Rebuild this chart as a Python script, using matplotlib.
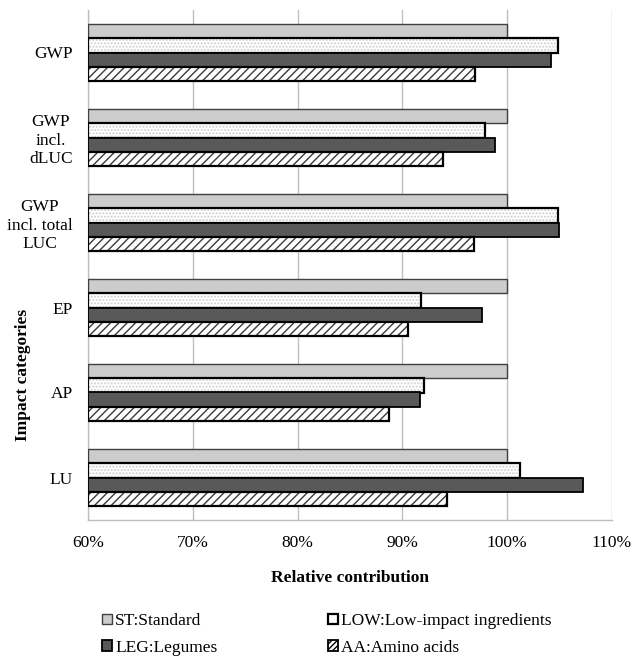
import matplotlib
matplotlib.use("Agg")
import matplotlib.pyplot as plt
from matplotlib.patches import Patch
from matplotlib.ticker import FuncFormatter
import numpy as np

plt.rcParams['font.family'] = ['Liberation Serif', 'DejaVu Serif']
plt.rcParams['hatch.linewidth'] = 1.0

categories = ["GWP", "GWP\nincl.\ndLUC", "GWP\nincl. total\nLUC", "EP", "AP", "LU"]
series_names = ["ST:Standard", "LOW:Low-impact ingredients", "LEG:Legumes", "AA:Amino acids"]
st = [100.0, 100.0, 100.0, 100.0, 100.0, 100.0]
low = [104.8, 97.9, 104.8, 91.8, 92.1, 101.2]
leg = [104.2, 98.8, 104.9, 97.6, 91.7, 107.2]
aa = [96.95, 93.9, 96.86, 90.5, 88.7, 94.3]
x_ticks = [60, 70, 80, 90, 100, 110]

XMIN, XMAX = 60, 110

fig = plt.figure(figsize=(6.35, 6.56), dpi=100)
ax = fig.add_axes([88/635, 1 - 520/656, 524/635, 510/656])

y = np.arange(len(categories))
h = 0.165
offs = [-1.5*h, -0.5*h, 0.5*h, 1.5*h]

def bars(vals, off, **kw):
    v = np.array(vals)
    return ax.barh(y + off, v - XMIN, left=XMIN, height=h, zorder=3, **kw)

# ST
bars(st, offs[0], color='#cccccc', edgecolor='#404040', linewidth=1.0)
# LOW: dotted fill then black outline
bars(low, offs[1], color='white', edgecolor='#cfcfcf', linewidth=0, hatch='.....')
bars(low, offs[1], fill=False, edgecolor='black', linewidth=1.6)
# LEG
bars(leg, offs[2], color='#595959', edgecolor='black', linewidth=1.3)
# AA: hatch then black outline
bars(aa, offs[3], color='white', edgecolor='#3a3a3a', linewidth=0, hatch='////')
bars(aa, offs[3], fill=False, edgecolor='black', linewidth=1.6)

ax.set_xlim(XMIN, XMAX)
ax.set_ylim(len(categories) - 0.5, -0.5)
ax.set_xticks(x_ticks)
ax.xaxis.set_major_formatter(FuncFormatter(lambda v, p: f"{int(v)}%"))
ax.set_yticks(y)
ax.set_yticklabels(categories)
for lab in ax.get_yticklabels():
    lab.set_multialignment('center')
ax.tick_params(axis='both', length=0, labelsize=12.5)
ax.tick_params(axis='y', pad=11)
ax.tick_params(axis='x', pad=10.5)
ax.grid(axis='x', color='#bfbfbf', linewidth=1.0, zorder=0)
ax.set_axisbelow(True)
for s in ['top', 'right']:
    ax.spines[s].set_visible(False)
for s in ['left', 'bottom']:
    ax.spines[s].set_color('#bfbfbf')
    ax.spines[s].set_linewidth(1.0)

fig.text(350/635, 1 - 578/656, "Relative contribution", ha='center', va='center',
         fontsize=12.5, fontweight='bold')
fig.text(23/635, 1 - 375/656, "Impact categories", ha='center', va='center',
         rotation=90, fontsize=12.5, fontweight='bold')

h_st = Patch(facecolor='#cccccc', edgecolor='#404040', linewidth=1.0)
h_low = Patch(facecolor='white', edgecolor='black', linewidth=1.6)
h_leg = Patch(facecolor='#595959', edgecolor='black', linewidth=1.3)
h_aa = Patch(facecolor='white', edgecolor='black', linewidth=1.3, hatch='//////')
# legend filled row-wise: ST, LOW / LEG, AA (column-major order for matplotlib)
handles = [h_st, h_leg, h_low, h_aa]
labels = [series_names[0], series_names[2], series_names[1], series_names[3]]
fig.legend(handles, labels, ncol=2, loc='upper left',
           bbox_to_anchor=(102/635, 1 - 613/656), frameon=False,
           fontsize=12.5, handlelength=0.55, handleheight=0.55,
           handletextpad=0.2, columnspacing=6.4, labelspacing=0.62,
           borderpad=0, borderaxespad=0)

fig.savefig("out.png", dpi=100)
